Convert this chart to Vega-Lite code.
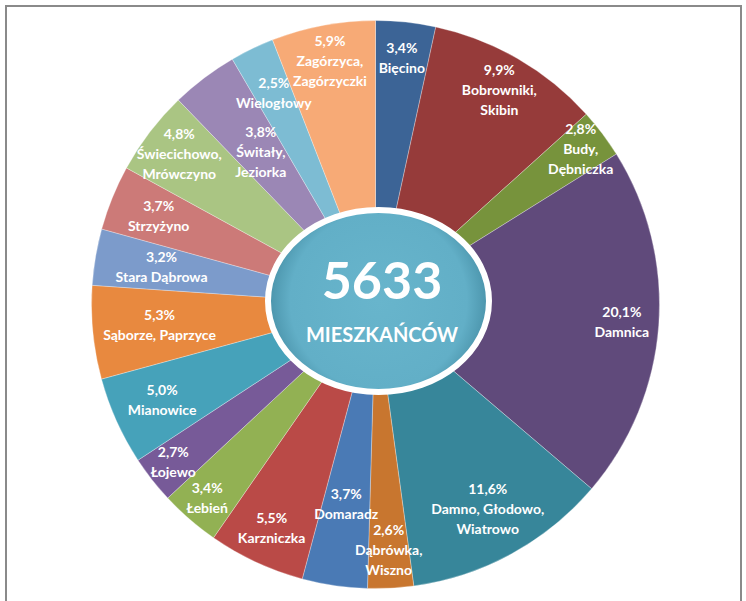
{
  "$schema": "https://vega.github.io/schema/vega-lite/v6.json",
  "width": 735,
  "height": 597,
  "autosize": {"type": "none"},
  "padding": {"left": 6, "top": 6, "right": 5, "bottom": 0},
  "background": "white",
  "config": {"view": {"stroke": null}},
  "data": {"values": [
    {"i": 1, "name": "Bięcino", "value": 3.4, "label": "3,4%\nBięcino"},
    {"i": 2, "name": "Bobrowniki, Skibin", "value": 9.9, "label": "9,9%\nBobrowniki,\nSkibin"},
    {"i": 3, "name": "Budy, Dębniczka", "value": 2.8, "label": "2,8%\nBudy,\nDębniczka"},
    {"i": 4, "name": "Damnica", "value": 20.1, "label": "20,1%\nDamnica"},
    {"i": 5, "name": "Damno, Głodowo, Wiatrowo", "value": 11.6, "label": "11,6%\nDamno, Głodowo,\nWiatrowo"},
    {"i": 6, "name": "Dąbrówka, Wiszno", "value": 2.6, "label": "2,6%\nDąbrówka,\nWiszno"},
    {"i": 7, "name": "Domaradz", "value": 3.7, "label": "3,7%\nDomaradz"},
    {"i": 8, "name": "Karzniczka", "value": 5.5, "label": "5,5%\nKarzniczka"},
    {"i": 9, "name": "Łebień", "value": 3.4, "label": "3,4%\nŁebień"},
    {"i": 10, "name": "Łojewo", "value": 2.7, "label": "2,7%\nŁojewo"},
    {"i": 11, "name": "Mianowice", "value": 5.0, "label": "5,0%\nMianowice"},
    {"i": 12, "name": "Sąborze, Paprzyce", "value": 5.3, "label": "5,3%\nSąborze, Paprzyce"},
    {"i": 13, "name": "Stara Dąbrowa", "value": 3.2, "label": "3,2%\nStara Dąbrowa"},
    {"i": 14, "name": "Strzyżyno", "value": 3.7, "label": "3,7%\nStrzyżyno"},
    {"i": 15, "name": "Świecichowo, Mrówczyno", "value": 4.8, "label": "4,8%\nŚwiecichowo,\nMrówczyno"},
    {"i": 16, "name": "Świtały, Jeziorka", "value": 3.8, "label": "3,8%\nŚwitały,\nJeziorka"},
    {"i": 17, "name": "Wielogłowy", "value": 2.5, "label": "2,5%\nWielogłowy"},
    {"i": 18, "name": "Zagórzyca, Zagórzyczki", "value": 5.9, "label": "5,9%\nZagórzyca,\nZagórzyczki"}
  ]},
  "layer": [
    {
      "data": {"values": [{"k": "frame"}]},
      "mark": {"type": "rect", "fill": null, "stroke": "#8A8A8A", "strokeWidth": 2},
      "encoding": {}
    },
    {
      "mark": {"type": "arc", "outerRadius": 284, "xOffset": 2, "stroke": "white", "strokeWidth": 0.3},
      "encoding": {
        "theta": {"field": "value", "type": "quantitative", "stack": true},
        "order": {"field": "i", "type": "quantitative"},
        "color": {
          "field": "name", "type": "nominal", "legend": null,
          "scale": {
            "domain": ["Bięcino", "Bobrowniki, Skibin", "Budy, Dębniczka", "Damnica", "Damno, Głodowo, Wiatrowo", "Dąbrówka, Wiszno", "Domaradz", "Karzniczka", "Łebień", "Łojewo", "Mianowice", "Sąborze, Paprzyce", "Stara Dąbrowa", "Strzyżyno", "Świecichowo, Mrówczyno", "Świtały, Jeziorka", "Wielogłowy", "Zagórzyca, Zagórzyczki"],
            "range": ["#3C6496", "#963B3A", "#77933C", "#604A7B", "#37869A", "#C8762F", "#4A7AB5", "#BA4A47", "#92B153", "#775A98", "#46A2BA", "#E8893F", "#7C9BCB", "#CC7A78", "#AAC583", "#9B87B5", "#7DBCD3", "#F7AA76"]
          }
        }
      }
    },
    {
      "mark": {
        "type": "text",
        "radius": {"expr": "indexof([3,9,10], datum.i) >= 0 ? 257 : indexof([5,11,14,17], datum.i) >= 0 ? 234 : indexof([12,13], datum.i) >= 0 ? 217 : datum.i == 7 ? 203 : datum.i == 16 ? 190 : 247"},
        "dy": {"expr": "-10 * (length(split(datum.label, '\\n')) - 1)"},
        "xOffset": 2, "fill": "white", "font": "Lato", "fontWeight": "bold", "fontSize": 14, "lineBreak": "\n", "lineHeight": 20, "align": "center", "baseline": "middle"
      },
      "encoding": {
        "theta": {"field": "value", "type": "quantitative", "stack": true},
        "order": {"field": "i", "type": "quantitative"},
        "text": {"field": "label", "type": "nominal"}
      }
    },
    {
      "data": {"values": [{"k": "5633 MIESZKAŃCÓW"}]},
      "mark": {
        "type": "point",
        "shape": "M -1 0 A 1 0.8235 0 1 1 1 0 A 1 0.8235 0 1 1 -1 0 Z",
        "size": 48841,
        "filled": true,
        "opacity": 1,
        "xOffset": 5,
        "yOffset": -3.5,
        "stroke": "white",
        "strokeWidth": 6,
        "strokeOpacity": 1,
        "fill": {"gradient": "radial", "x1": 0.5, "y1": 0.5, "r1": 0, "x2": 0.5, "y2": 0.5, "r2": 0.5,
          "stops": [{"offset": 0, "color": "#68B5CC"}, {"offset": 0.8, "color": "#62AFC7"}, {"offset": 1, "color": "#4A93AA"}]}
      },
      "encoding": {}
    },
    {
      "data": {"values": [{"t": "5633"}]},
      "mark": {"type": "text", "xOffset": 8.5, "yOffset": -22, "fill": "white", "font": "Lato", "fontWeight": "bold", "fontSize": 52, "align": "center", "baseline": "middle"},
      "encoding": {"text": {"field": "t", "type": "nominal"}}
    },
    {
      "data": {"values": [{"t": "MIESZKAŃCÓW"}]},
      "mark": {"type": "text", "xOffset": 8.5, "yOffset": 31.5, "fill": "white", "font": "Lato", "fontWeight": "bold", "fontSize": 20, "align": "center", "baseline": "middle"},
      "encoding": {"text": {"field": "t", "type": "nominal"}}
    }
  ]
}
